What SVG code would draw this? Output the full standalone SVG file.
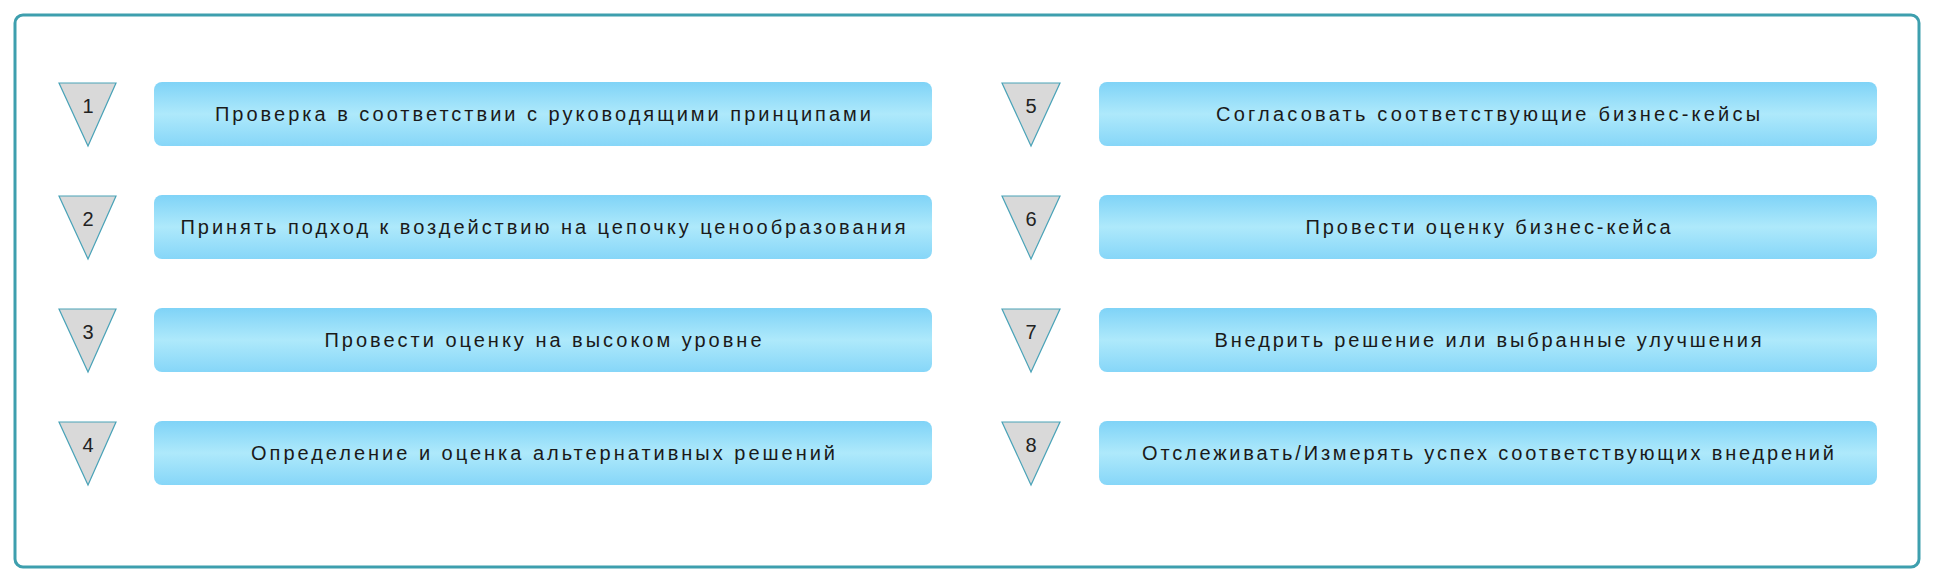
<svg xmlns="http://www.w3.org/2000/svg" width="1939" height="585" viewBox="0 0 1939 585">
<defs>
<linearGradient id="g" x1="0" y1="0" x2="0" y2="1">
<stop offset="0" stop-color="#7fd3f7"/><stop offset="0.5" stop-color="#aee9fb"/><stop offset="1" stop-color="#86d6f8"/>
</linearGradient>
<style>
.box{fill:url(#g)}
.tri{fill:#d9d9d9;stroke:#4aa3b8;stroke-width:1.2}
.t{font-family:"Liberation Sans",Arial,sans-serif;font-size:20px;fill:#1a1a1a;text-anchor:middle}
.n{font-family:"Liberation Sans",Arial,sans-serif;font-size:20px;fill:#222;text-anchor:middle}
</style>
</defs>
<rect width="1939" height="585" fill="#fff"/>
<rect x="15" y="15" width="1904" height="552" rx="8" fill="none" stroke="#3e9fae" stroke-width="3"/>
<g id="connectors"/>
<g id="s1"><polygon class="tri" points="59,83 116,83 88,146"/><text class="n" x="88" y="113">1</text>
<rect class="box" x="154" y="82" width="778" height="64" rx="8"/><text class="t" x="543" y="121" textLength="656" lengthAdjust="spacing">Проверка в соответствии с руководящими принципами</text></g>
<g id="s2"><polygon class="tri" points="59,196 116,196 88,259"/><text class="n" x="88" y="226">2</text>
<rect class="box" x="154" y="195" width="778" height="64" rx="8"/><text class="t" x="543" y="234" textLength="725" lengthAdjust="spacing">Принять подход к воздействию на цепочку ценообразования</text></g>
<g id="s3"><polygon class="tri" points="59,309 116,309 88,372"/><text class="n" x="88" y="339">3</text>
<rect class="box" x="154" y="308" width="778" height="64" rx="8"/><text class="t" x="543" y="347" textLength="437" lengthAdjust="spacing">Провести оценку на высоком уровне</text></g>
<g id="s4"><polygon class="tri" points="59,422 116,422 88,485"/><text class="n" x="88" y="452">4</text>
<rect class="box" x="154" y="421" width="778" height="64" rx="8"/><text class="t" x="543" y="460" textLength="584" lengthAdjust="spacing">Определение и оценка альтернативных решений</text></g>
<g id="s5"><polygon class="tri" points="1002,83 1060,83 1031,146"/><text class="n" x="1031" y="113">5</text>
<rect class="box" x="1099" y="82" width="778" height="64" rx="8"/><text class="t" x="1488" y="121" textLength="544" lengthAdjust="spacing">Согласовать соответствующие бизнес-кейсы</text></g>
<g id="s6"><polygon class="tri" points="1002,196 1060,196 1031,259"/><text class="n" x="1031" y="226">6</text>
<rect class="box" x="1099" y="195" width="778" height="64" rx="8"/><text class="t" x="1488" y="234" textLength="365" lengthAdjust="spacing">Провести оценку бизнес-кейса</text></g>
<g id="s7"><polygon class="tri" points="1002,309 1060,309 1031,372"/><text class="n" x="1031" y="339">7</text>
<rect class="box" x="1099" y="308" width="778" height="64" rx="8"/><text class="t" x="1488" y="347" textLength="547" lengthAdjust="spacing">Внедрить решение или выбранные улучшения</text></g>
<g id="s8"><polygon class="tri" points="1002,422 1060,422 1031,485"/><text class="n" x="1031" y="452">8</text>
<rect class="box" x="1099" y="421" width="778" height="64" rx="8"/><text class="t" x="1488" y="460" textLength="692" lengthAdjust="spacing">Отслеживать/Измерять успех соответствующих внедрений</text></g>
</svg>
